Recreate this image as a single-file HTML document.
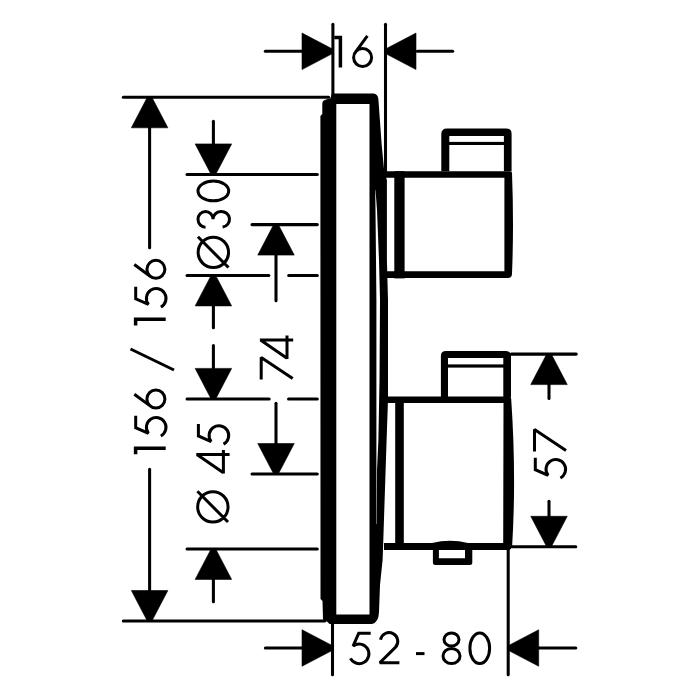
<!DOCTYPE html>
<html><head><meta charset="utf-8"><style>
html,body{margin:0;padding:0;background:#fff;width:700px;height:700px;overflow:hidden}
svg{display:block}
</style></head><body>
<svg width="700" height="700" viewBox="0 0 700 700">
<rect width="700" height="700" fill="#fff"/>
<g fill="none" stroke="#000" stroke-linecap="butt" stroke-linejoin="miter">
<path d="M332.9 24.32L332.9 95.67" stroke-width="3.05" stroke-linecap="round"/>
<path d="M385.5 24.32L385.5 170.68" stroke-width="3.05" stroke-linecap="round"/>
<path d="M265.32 51.3L301.68 51.3" stroke-width="3.05" stroke-linecap="round"/>
<polygon points="332.5,49 332.5,53.6 302,69.55 302,33.05" fill="#000" stroke="#000" stroke-width="0.6" stroke-linejoin="round"/>
<path d="M417.32 51.3L452.68 51.3" stroke-width="3.05" stroke-linecap="round"/>
<polygon points="385.5,49 385.5,53.6 416,69.55 416,33.05" fill="#000" stroke="#000" stroke-width="0.6" stroke-linejoin="round"/>
<path transform="translate(334.3 35.2)" d="M6.1 0.5V32.3M0 2.2H7.5" stroke-width="3.5" stroke-miterlimit="2"/>
<path transform="translate(352.6 35)" d="M14.8 0.9L2.84 17.05M1 22.5A9 9 0 1 0 19 22.5A9 9 0 1 0 1 22.5" stroke-width="3" stroke-miterlimit="2"/>
<path d="M123.33 97.3L328.68 97.3" stroke-width="3.05" stroke-linecap="round"/>
<path d="M123.33 621L324.68 621" stroke-width="3.05" stroke-linecap="round"/>
<path d="M149.6 127.33L149.6 247.68" stroke-width="3.05" stroke-linecap="round"/>
<path d="M149.6 469.32L149.6 590.67" stroke-width="3.05" stroke-linecap="round"/>
<polygon points="147.3,97.3 151.9,97.3 167.85,127.8 131.35,127.8" fill="#000" stroke="#000" stroke-width="0.6" stroke-linejoin="round"/>
<polygon points="147.3,621 151.9,621 167.85,590.5 131.35,590.5" fill="#000" stroke="#000" stroke-width="0.6" stroke-linejoin="round"/>
<path transform="translate(133.4 454.3) rotate(-90) translate(0 0)" d="M6.1 0.5V32.3M0 2.2H7.5" stroke-width="3.5" stroke-miterlimit="2"/>
<path transform="translate(133.4 454.3) rotate(-90) translate(17 0)" d="M21.6 2.3H9.6L3.97 15.08A9.8 9.8 0 1 1 1.35 27.4" stroke-width="3" stroke-miterlimit="2"/>
<path transform="translate(133.4 454.3) rotate(-90) translate(45.3 0)" d="M14.8 0.9L2.84 17.05M1 22.5A9 9 0 1 0 19 22.5A9 9 0 1 0 1 22.5" stroke-width="3" stroke-miterlimit="2"/>
<path transform="translate(133.4 454.3) rotate(-90) translate(128.9 0)" d="M6.1 0.5V32.3M0 2.2H7.5" stroke-width="3.5" stroke-miterlimit="2"/>
<path transform="translate(133.4 454.3) rotate(-90) translate(145.9 0)" d="M21.6 2.3H9.6L3.97 15.08A9.8 9.8 0 1 1 1.35 27.4" stroke-width="3" stroke-miterlimit="2"/>
<path transform="translate(133.4 454.3) rotate(-90) translate(175 0)" d="M14.8 0.9L2.84 17.05M1 22.5A9 9 0 1 0 19 22.5A9 9 0 1 0 1 22.5" stroke-width="3" stroke-miterlimit="2"/>
<path d="M130.5 349L174 370" stroke-width="3" stroke-linecap="butt"/>
<path d="M187.02 174.4L317.28 174.4" stroke-width="3.05" stroke-linecap="round"/>
<path d="M187.02 275.4L268.88 275.4" stroke-width="3.05" stroke-linecap="round"/>
<path d="M288.72 275.4L317.28 275.4" stroke-width="3.05" stroke-linecap="round"/>
<path d="M213.4 121.33L213.4 143.68" stroke-width="3.05" stroke-linecap="round"/>
<polygon points="211.1,174.4 215.7,174.4 231.65,143.9 195.15,143.9" fill="#000" stroke="#000" stroke-width="0.6" stroke-linejoin="round"/>
<polygon points="211.1,275.4 215.7,275.4 231.65,305.9 195.15,305.9" fill="#000" stroke="#000" stroke-width="0.6" stroke-linejoin="round"/>
<path d="M213.4 305.32L213.4 327.68" stroke-width="3.05" stroke-linecap="round"/>
<path transform="translate(196.6 269) rotate(-90) translate(0 0)" d="M1.4 16.75A15.2 15.2 0 1 0 31.8 16.75A15.2 15.2 0 1 0 1.4 16.75M32.2 1.3L1.5 31.9" stroke-width="3" stroke-miterlimit="2"/>
<path transform="translate(196.6 269) rotate(-90) translate(39.7 0)" d="M2.1 8.9A7.9 7.5 0 1 1 10 16.4M10 16.4A7.9 8.25 0 1 1 2.2 26" stroke-width="3" stroke-miterlimit="2"/>
<path transform="translate(196.6 269) rotate(-90) translate(66.8 0)" d="M1.4 16.75A9.85 15.35 0 1 0 21.1 16.75A9.85 15.35 0 1 0 1.4 16.75" stroke-width="3" stroke-miterlimit="2"/>
<path d="M252.02 224.6L317.28 224.6" stroke-width="3.05" stroke-linecap="round"/>
<path d="M252.02 474L317.28 474" stroke-width="3.05" stroke-linecap="round"/>
<polygon points="273.7,224.6 278.3,224.6 294.25,255.1 257.75,255.1" fill="#000" stroke="#000" stroke-width="0.6" stroke-linejoin="round"/>
<path d="M276 255.32L276 300.68" stroke-width="3.05" stroke-linecap="round"/>
<path d="M276 403.32L276 443.68" stroke-width="3.05" stroke-linecap="round"/>
<polygon points="273.7,474 278.3,474 294.25,443.5 257.75,443.5" fill="#000" stroke="#000" stroke-width="0.6" stroke-linejoin="round"/>
<path transform="translate(259.7 379.4) rotate(-90) translate(0 0)" d="M0 1.5H22L1 33" stroke-width="3" stroke-miterlimit="2"/>
<path transform="translate(259.7 379.4) rotate(-90) translate(20.5 0)" d="M18.9 0.2V33.5M18.9 0.8L0.6 27.3M0 27.3H23.5" stroke-width="3" stroke-miterlimit="2"/>
<path d="M187.02 398.9L269.18 398.9" stroke-width="3.05" stroke-linecap="round"/>
<path d="M288.52 398.9L317.28 398.9" stroke-width="3.05" stroke-linecap="round"/>
<path d="M187.02 548.9L317.28 548.9" stroke-width="3.05" stroke-linecap="round"/>
<path d="M213.4 345.52L213.4 367.68" stroke-width="3.05" stroke-linecap="round"/>
<polygon points="211.1,398.9 215.7,398.9 231.65,368.4 195.15,368.4" fill="#000" stroke="#000" stroke-width="0.6" stroke-linejoin="round"/>
<polygon points="211.1,548.9 215.7,548.9 231.65,579.4 195.15,579.4" fill="#000" stroke="#000" stroke-width="0.6" stroke-linejoin="round"/>
<path d="M213.4 578.33L213.4 601.67" stroke-width="3.05" stroke-linecap="round"/>
<path transform="translate(196.1 523.5) rotate(-90) translate(0 0)" d="M1.4 16.75A15.2 15.2 0 1 0 31.8 16.75A15.2 15.2 0 1 0 1.4 16.75M32.2 1.3L1.5 31.9" stroke-width="3" stroke-miterlimit="2"/>
<path transform="translate(196.1 523.5) rotate(-90) translate(50.1 0)" d="M18.9 0.2V33.5M18.9 0.8L0.6 27.3M0 27.3H23.5" stroke-width="3" stroke-miterlimit="2"/>
<path transform="translate(196.1 523.5) rotate(-90) translate(78 0)" d="M21.6 2.3H9.6L3.97 15.08A9.8 9.8 0 1 1 1.35 27.4" stroke-width="3" stroke-miterlimit="2"/>
<path d="M320.4 116L322.3 114V104Q322.3 100.6 326 99.6L330.5 98.2L331.8 93.4H373.5Q378 93.6 378.4 99.5L381.7 145L384.3 172L386.9 180V260L388 300V400L386.6 440L383.2 543L382.6 560L380 585L379 612Q378.6 622.5 372 624H329.5L327.5 622L323 619.5L322.5 601L320.5 599Z M336.3 103.9V614.4H369.5V103.9Z" fill="#000" fill-rule="evenodd" stroke="none"/>
<path d="M375.2 190L375.5 190L377 210L379 260L380 300L379.5 380L378.4 440L377 470L376.6 524L376.2 524L376.4 470L376.4 300L376 260L375.5 210Z" fill="#fff" stroke="none"/>
<path d="M384 171.2H510Q512 171.2 512 173Q514 225 512 274Q511.8 278 508 278H384V271.3H504.4V177.8H384Z" fill="#000" stroke="none"/>
<rect x="394.3" y="171.2" width="10.3" height="107.2" fill="#000" stroke="none"/>
<path d="M441.3 171.2V134Q441.3 128.4 447 128.4H506Q511.6 128.4 511.6 134V171.2H503.9V136H449.3V171.2Z" fill="#000" stroke="none"/>
<rect x="449" y="141.9" width="55" height="3.1" fill="#000" stroke="none"/>
<path d="M384 396.6H509Q511.2 396.6 511.2 399Q516.4 475 512.2 545Q512 550.1 508 550.1H384V542.9H503.2L503.5 403H384Z" fill="#000" stroke="none"/>
<rect x="395.2" y="397" width="8.6" height="152.8" fill="#000" stroke="none"/>
<path d="M440.9 397V356Q440.9 350.9 446 350.9H506Q511 350.9 511 356V397H503.3V358H448V397Z" fill="#000" stroke="none"/>
<rect x="448" y="364.4" width="56" height="3.2" fill="#000" stroke="none"/>
<path d="M432 543Q450 538.6 468 543Z" fill="#000" stroke="none"/>
<path d="M432.9 548V562.5Q432.9 565 435.5 565H469.7Q472.3 565 472.3 562.5V548H465V558.3H438.9V548Z" fill="#000" stroke="none"/>
<path d="M511.32 354.1L576.27 354.1" stroke-width="3.05" stroke-linecap="round"/>
<path d="M512.33 546.8L575.77 546.8" stroke-width="3.05" stroke-linecap="round"/>
<polygon points="546.7,354.1 551.3,354.1 567.25,384.6 530.75,384.6" fill="#000" stroke="#000" stroke-width="0.6" stroke-linejoin="round"/>
<path d="M549 384.32L549 398.38" stroke-width="3.05" stroke-linecap="round"/>
<path d="M549 501.32L549 516.67" stroke-width="3.05" stroke-linecap="round"/>
<polygon points="546.7,546.8 551.3,546.8 567.25,516.3 530.75,516.3" fill="#000" stroke="#000" stroke-width="0.6" stroke-linejoin="round"/>
<path transform="translate(533 479.3) rotate(-90) translate(0 0)" d="M21.6 2.3H9.6L3.97 15.08A9.8 9.8 0 1 1 1.35 27.4" stroke-width="3" stroke-miterlimit="2"/>
<path transform="translate(533 479.3) rotate(-90) translate(27.9 0)" d="M0 1.5H22L1 33" stroke-width="3" stroke-miterlimit="2"/>
<path d="M332.5 618.33L332.5 674.67" stroke-width="3.05" stroke-linecap="round"/>
<path d="M508.2 548.33L508.2 674.67" stroke-width="3.05" stroke-linecap="round"/>
<path d="M265.32 648L301.68 648" stroke-width="3.05" stroke-linecap="round"/>
<polygon points="332.5,645.7 332.5,650.3 302,666.25 302,629.75" fill="#000" stroke="#000" stroke-width="0.6" stroke-linejoin="round"/>
<path d="M538.33 648L575.77 648" stroke-width="3.05" stroke-linecap="round"/>
<polygon points="508.2,645.7 508.2,650.3 538.7,666.25 538.7,629.75" fill="#000" stroke="#000" stroke-width="0.6" stroke-linejoin="round"/>
<path transform="translate(349.1 631)" d="M21.6 2.3H9.6L3.97 15.08A9.8 9.8 0 1 1 1.35 27.4" stroke-width="3" stroke-miterlimit="2"/>
<path transform="translate(377.6 631.5)" d="M2.95 8.2A8.7 8.7 0 1 1 17.77 15.83L2.2 31.3H21.8" stroke-width="3" stroke-miterlimit="2"/>
<path d="M416 653.6L424.5 653.6" stroke-width="3" stroke-linecap="butt"/>
<path transform="translate(441 631.5)" d="M3 8A7.5 6.6 0 1 0 18 8A7.5 6.6 0 1 0 3 8M2 24.5A8.5 7.6 0 1 0 19 24.5A8.5 7.6 0 1 0 2 24.5" stroke-width="3" stroke-miterlimit="2"/>
<path transform="translate(468.5 631.5)" d="M1.4 16.75A9.85 15.35 0 1 0 21.1 16.75A9.85 15.35 0 1 0 1.4 16.75" stroke-width="3" stroke-miterlimit="2"/>
</g></svg></body></html>
